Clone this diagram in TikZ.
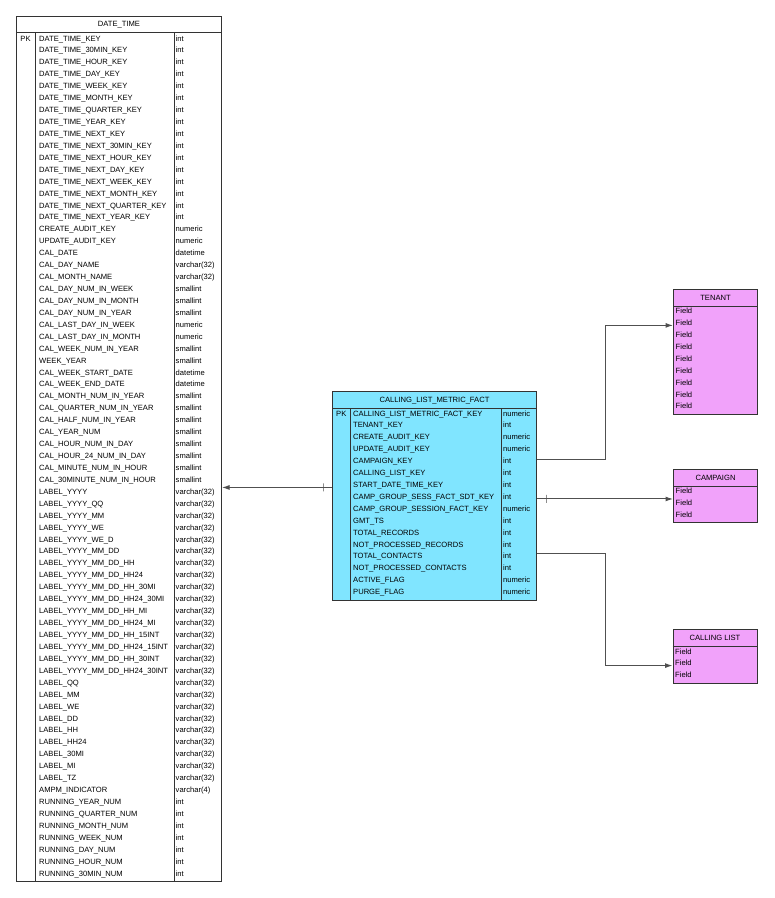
\documentclass[tikz,border=0pt]{standalone}
\usepackage{fontspec}
\setmainfont{Liberation Sans}
\usetikzlibrary{positioning,arrows.meta}
\definecolor{factfill}{RGB}{128,229,255}
\definecolor{dimfill}{RGB}{241,162,250}
\definecolor{edge}{RGB}{51,51,51}
\definecolor{wire}{RGB}{80,80,80}
\begin{document}
\catcode`\_=12
\begin{tikzpicture}[x=1pt,y=-1pt,>={Latex[length=7.5pt,width=5pt]},
every node/.style={inner sep=0pt,font=\fontsize{7.6}{9}\selectfont,text height=5.4pt,text depth=0pt},
entity/.style={draw=edge,line width=1pt,anchor=north west,text height=,text depth=},
rule/.style={draw=edge,line width=1pt},
fk/.style={draw=wire,line width=1pt},
tick/.style={draw=wire,line width=1pt,minimum height=8pt,minimum width=0pt,text height=,text depth=}]
\useasboundingbox (0,0) rectangle (775,898);

% DATE_TIME
\node[entity,fill=white,minimum width=205pt,minimum height=865pt] (dt) at (16,16) {};
\node (dt-title) at ([yshift=-8pt]dt.north) {DATE_TIME};
\draw[rule] ([yshift=-16pt]dt.north west) -- ([yshift=-16pt]dt.north east);
\draw[rule] ([xshift=19.5pt,yshift=-16pt]dt.north west) -- ([xshift=19.5pt]dt.south west);
\draw[rule] ([xshift=158pt,yshift=-16pt]dt.north west) -- ([xshift=158pt]dt.south west);
\node (dt-pk) at (25.5,38.3) {PK};
\foreach \fld/\typ [count=\i] in {DATE_TIME_KEY/int,DATE_TIME_30MIN_KEY/int,DATE_TIME_HOUR_KEY/int,
  DATE_TIME_DAY_KEY/int,DATE_TIME_WEEK_KEY/int,DATE_TIME_MONTH_KEY/int,DATE_TIME_QUARTER_KEY/int,
  DATE_TIME_YEAR_KEY/int,DATE_TIME_NEXT_KEY/int,DATE_TIME_NEXT_30MIN_KEY/int,DATE_TIME_NEXT_HOUR_KEY/int,
  DATE_TIME_NEXT_DAY_KEY/int,DATE_TIME_NEXT_WEEK_KEY/int,DATE_TIME_NEXT_MONTH_KEY/int,
  DATE_TIME_NEXT_QUARTER_KEY/int,DATE_TIME_NEXT_YEAR_KEY/int,CREATE_AUDIT_KEY/numeric,
  UPDATE_AUDIT_KEY/numeric,CAL_DATE/datetime,CAL_DAY_NAME/varchar(32),CAL_MONTH_NAME/varchar(32),
  CAL_DAY_NUM_IN_WEEK/smallint,CAL_DAY_NUM_IN_MONTH/smallint,CAL_DAY_NUM_IN_YEAR/smallint,
  CAL_LAST_DAY_IN_WEEK/numeric,CAL_LAST_DAY_IN_MONTH/numeric,CAL_WEEK_NUM_IN_YEAR/smallint,
  WEEK_YEAR/smallint,CAL_WEEK_START_DATE/datetime,CAL_WEEK_END_DATE/datetime,
  CAL_MONTH_NUM_IN_YEAR/smallint,CAL_QUARTER_NUM_IN_YEAR/smallint,CAL_HALF_NUM_IN_YEAR/smallint,
  CAL_YEAR_NUM/smallint,CAL_HOUR_NUM_IN_DAY/smallint,CAL_HOUR_24_NUM_IN_DAY/smallint,
  CAL_MINUTE_NUM_IN_HOUR/smallint,CAL_30MINUTE_NUM_IN_HOUR/smallint,LABEL_YYYY/varchar(32),
  LABEL_YYYY_QQ/varchar(32),LABEL_YYYY_MM/varchar(32),LABEL_YYYY_WE/varchar(32),
  LABEL_YYYY_WE_D/varchar(32),LABEL_YYYY_MM_DD/varchar(32),LABEL_YYYY_MM_DD_HH/varchar(32),
  LABEL_YYYY_MM_DD_HH24/varchar(32),LABEL_YYYY_MM_DD_HH_30MI/varchar(32),
  LABEL_YYYY_MM_DD_HH24_30MI/varchar(32),LABEL_YYYY_MM_DD_HH_MI/varchar(32),
  LABEL_YYYY_MM_DD_HH24_MI/varchar(32),LABEL_YYYY_MM_DD_HH_15INT/varchar(32),
  LABEL_YYYY_MM_DD_HH24_15INT/varchar(32),LABEL_YYYY_MM_DD_HH_30INT/varchar(32),
  LABEL_YYYY_MM_DD_HH24_30INT/varchar(32),LABEL_QQ/varchar(32),LABEL_MM/varchar(32),
  LABEL_WE/varchar(32),LABEL_DD/varchar(32),LABEL_HH/varchar(32),LABEL_HH24/varchar(32),
  LABEL_30MI/varchar(32),LABEL_MI/varchar(32),LABEL_TZ/varchar(32),AMPM_INDICATOR/varchar(4),
  RUNNING_YEAR_NUM/int,RUNNING_QUARTER_NUM/int,RUNNING_MONTH_NUM/int,RUNNING_WEEK_NUM/int,
  RUNNING_DAY_NUM/int,RUNNING_HOUR_NUM/int,RUNNING_30MIN_NUM/int}
{
  \node[anchor=west] (dt-\i) at (39,{38.3+(\i-1)*11.93}) {\fld};
  \node[anchor=west] (dtt-\i) at (175.5,{38.3+(\i-1)*11.93}) {\typ};
}

% CALLING_LIST_METRIC_FACT
\node[entity,fill=factfill,minimum width=204pt,minimum height=209pt] (fact) at (332,391) {};
\node (fact-title) at ([yshift=-8.5pt]fact.north) {CALLING_LIST_METRIC_FACT};
\draw[rule] ([yshift=-17pt]fact.north west) -- ([yshift=-17pt]fact.north east);
\draw[rule] ([xshift=18.7pt,yshift=-17pt]fact.north west) -- ([xshift=18.7pt]fact.south west);
\draw[rule] ([xshift=169pt,yshift=-17pt]fact.north west) -- ([xshift=169pt]fact.south west);
\node (fact-pk) at (341.3,413.3) {PK};
\foreach \fld/\typ [count=\i] in {CALLING_LIST_METRIC_FACT_KEY/numeric,TENANT_KEY/int,
  CREATE_AUDIT_KEY/numeric,UPDATE_AUDIT_KEY/numeric,CAMPAIGN_KEY/int,CALLING_LIST_KEY/int,
  START_DATE_TIME_KEY/int,CAMP_GROUP_SESS_FACT_SDT_KEY/int,CAMP_GROUP_SESSION_FACT_KEY/numeric,
  GMT_TS/int,TOTAL_RECORDS/int,NOT_PROCESSED_RECORDS/int,TOTAL_CONTACTS/int,
  NOT_PROCESSED_CONTACTS/int,ACTIVE_FLAG/numeric,PURGE_FLAG/numeric}
{
  \node[anchor=west] (f-\i) at (353,{413.3+(\i-1)*11.91}) {\fld};
  \node[anchor=west] (ft-\i) at (503,{413.3+(\i-1)*11.91}) {\typ};
}

% dimension tables
\foreach \id/\title/\x/\y/\h/\rows in {tenant/TENANT/673/289/125/9,
  campaign/CAMPAIGN/673/469/53/3,clist/CALLING LIST/672.5/629.3/54/3}
{
  \node[entity,fill=dimfill,minimum width=84pt,minimum height=\h pt] (\id) at (\x,\y) {};
  \node (\id-title) at ([yshift=-8.5pt]\id.north) {\title};
  \draw[rule] ([yshift=-17pt]\id.north west) -- ([yshift=-17pt]\id.north east);
  \foreach \j in {1,...,\rows}
    \node[anchor=west] (\id-\j) at (\x+2.5,{\y+22+(\j-1)*11.9}) {Field};
}

% relations
\coordinate (fk-dt) at ([yshift=-2.7pt]f-7.west);
\coordinate (fk-tenant) at ([yshift=1.9pt]f-5.west);
\coordinate (fk-campaign) at ([yshift=-2.3pt]f-8.west);
\coordinate (fk-clist) at ([yshift=3.2pt]f-13.west);
\coordinate (pk-tenant) at ([yshift=-2.5pt]tenant-2.west);
\coordinate (pk-clist) at ([yshift=-2.4pt]clist-2.west);

\draw[fk,->] (fact.west |- fk-dt) -- node[tick,at start,xshift=-9pt] (tick-dt) {} (dt.east |- fk-dt);
\draw[fk,->] (fact.east |- fk-tenant) -- ++(68,0) |- (tenant.west |- pk-tenant);
\draw[fk,->] (fact.east |- fk-campaign) -- node[tick,at start,xshift=9pt] (tick-campaign) {} (campaign.west |- fk-campaign);
\draw[fk,->] (fact.east |- fk-clist) -- ++(68,0) |- (clist.west |- pk-clist);
\end{tikzpicture}
\end{document}
